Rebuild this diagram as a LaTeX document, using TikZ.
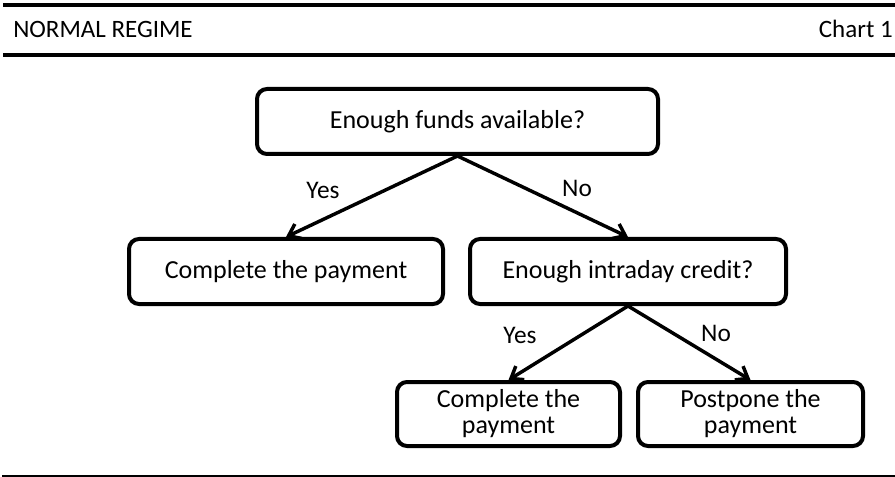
\documentclass[tikz,border=0pt]{standalone}
\usepackage{fontspec}
\setmainfont{Carlito}
\usetikzlibrary{arrows.meta}
\tikzset{
    flow chart/.style = {x=0.75pt, y=-0.75pt,
                         >={Straight Barb[length=8pt, width=12pt]}},
    rule/.style       = {line width=3pt},
    thin rule/.style  = {line width=1.1pt},
    line/.style       = {line width=2.6pt},
    box/.style        = {draw, line width=3pt, rounded corners=7.5pt,
                         fill=white, align=center,
                         minimum height=48.75pt,
                         font=\fontsize{19.5}{19.5}\selectfont},
    small box/.style  = {box, minimum height=48pt},
    head/.style       = {inner sep=0pt, font=\fontsize{18.75}{22}\selectfont},
    answer/.style     = {font=\fontsize{19}{22}\selectfont}
}

\begin{document}
\begin{tikzpicture}[flow chart]

\useasboundingbox (0,0) rectangle (895,477);

% header and rules
\coordinate (rule top w) at (3,5);
\coordinate (rule top e) at (895,5);
\coordinate (rule mid w) at (3,55);
\coordinate (rule mid e) at (895,55);
\coordinate (rule bot w) at (2,476);
\coordinate (rule bot e) at (895,476);
\draw[rule] (rule top w) -- (rule top e);
\draw[rule] (rule mid w) -- (rule mid e);
\draw[thin rule] (rule bot w) -- (rule bot e);

\node[head, anchor=base west] (title) at (13,38) {NORMAL REGIME};
\node[head, anchor=base east] (chart) at (893,38) {Chart 1};

% boxes
\node[box, minimum width=300.75pt] (funds) at (457.5,121.5)
    {Enough funds available?};
\node[box, minimum width=235.5pt] (complete) at (286,271.5)
    {Complete the payment};
\node[box, minimum width=237pt] (credit) at (628,271.5)
    {Enough intraday credit?};
\node[small box, minimum width=167.25pt] (complete credit) at (508.5,414)
    {Complete the\\payment};
\node[small box, minimum width=168.75pt] (postpone) at (750.5,414)
    {Postpone the\\payment};

% connectors
\draw[->, line] (funds.south) -- (complete.north);
\draw[->, line] (funds.south) -- (credit.north);
\draw[->, line] (credit.south) -- (complete credit.north);
\draw[->, line] (credit.south) -- (postpone.north);

\node[answer] (yes funds) at (323,190) {Yes};
\node[answer] (no funds) at (577,188) {No};
\node[answer] (yes credit) at (520,335) {Yes};
\node[answer] (no credit) at (716,333) {No};

\end{tikzpicture}
\end{document}
